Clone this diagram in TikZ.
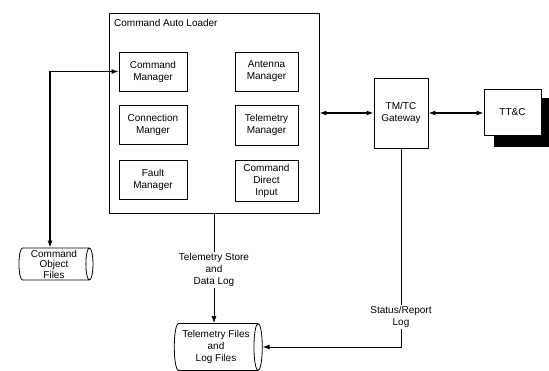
\documentclass[tikz,border=0pt]{standalone}
\usepackage{fontspec}
\setmainfont{Liberation Sans}
\usetikzlibrary{arrows.meta,shapes.geometric}
\begin{document}
\begin{tikzpicture}[x=1pt,y=-1pt,
  font=\fontsize{10}{12}\selectfont,
  box/.style={draw, line width=0.8pt, rectangle, align=center, inner sep=0pt},
  store/.style={draw, line width=0.8pt, cylinder, aspect=0.25, align=center, inner sep=0pt},
  link/.style={line width=0.9pt},
  tip/.style={-{Latex[length=7pt,width=5pt]}},
  both/.style={{Latex[length=7pt,width=5pt]}-{Latex[length=7pt,width=5pt]}},
  tag/.style={fill=white, align=center, inner sep=1pt}
]
\useasboundingbox (0,0) rectangle (549,371);

% outer loader frame and its title
\node[box, minimum width=210pt, minimum height=200pt] (loader) at (214,113) {};
\node[anchor=base west, inner sep=0pt] (title) at (114,27) {Command Auto Loader};

% manager modules
\node[box, minimum width=68pt, minimum height=39pt] (cmgr)  at (153,71.5)  {Command\\Manager};
\node[box, minimum width=68pt, minimum height=39pt] (conn)  at (153,124.5) {Connection\\Manger};
\node[box, minimum width=68pt, minimum height=39pt] (fault) at (153,179.5) {Fault\\Manager};
\node[box, minimum width=63pt, minimum height=39pt] (ant)   at (266.5,71.5)  {Antenna\\Manager};
\node[box, minimum width=63pt, minimum height=40pt] (telm)  at (266.5,125)   {Telemetry\\Manager};
\node[box, minimum width=63pt, minimum height=41pt] (cdi)   at (266.5,180.5) {Command\\Direct\\Input};

% gateway and ground station with drop shadow
\node[box, minimum width=54pt, minimum height=70pt, font=\fontsize{10}{11.5}\selectfont] (gw) at (401,113) {TM/TC\\Gateway};
\fill (494,98) rectangle (556,147);
\node[box, fill=white, minimum width=57pt, minimum height=46pt] (ttc) at (512.5,112) {TT\&C};

% file stores (cylinder: height runs along the axis, width across it)
\node[store, minimum height=74pt, minimum width=32pt, font=\fontsize{10}{10.5}\selectfont] (cof) at (54,264) {Command\\Object\\Files};
\node[store, minimum height=88pt, minimum width=47pt] (tlf) at (216,347) {Telemetry Files\\and\\Log Files};

% connectors
\draw[link,both,line width=1.2pt] (cmgr.west) -| ([xshift=-4pt]cof.north);
\draw[link,both,line width=1.2pt] (loader.east) -- (gw.west);
\draw[link,both,line width=1.2pt] (gw.east) -- (gw.east -| ttc.west);
\draw[link,tip] (loader.south) -- (loader.south |- tlf.north);
\draw[link,tip] (gw.south) |- (tlf.east);

% connector labels
\node[tag] (tsdl) at (214,270) {Telemetry Store\\and\\Data Log};
\node[tag] (srlog) at (401,317) {Status/Report\\Log};
\end{tikzpicture}
\end{document}
